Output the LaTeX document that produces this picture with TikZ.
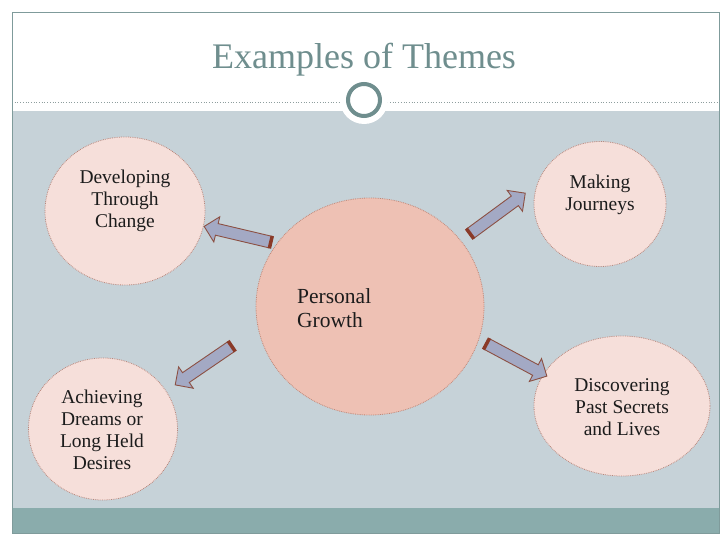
\documentclass[tikz,border=0pt]{standalone}
\usepackage{fontspec}
\setmainfont{Liberation Serif}
\usetikzlibrary{shapes.geometric, shapes.arrows}

\definecolor{framegray}{HTML}{7F9B9B}
\definecolor{dotgray}{HTML}{8E9E9E}
\definecolor{titleteal}{HTML}{6F8E8E}
\definecolor{bandblue}{HTML}{C6D2D8}
\definecolor{barteal}{HTML}{8AACAC}
\definecolor{hubfill}{HTML}{EEC1B4}
\definecolor{hubline}{HTML}{C08676}
\definecolor{bubblefill}{HTML}{F6DFDA}
\definecolor{bubbleline}{HTML}{B9877C}
\definecolor{arrowfill}{HTML}{A3A9C4}
\definecolor{arrowedge}{HTML}{8C5043}
\definecolor{capbrown}{HTML}{8A3A28}
\definecolor{textblack}{HTML}{1C1C1C}

\begin{document}
\begin{tikzpicture}[x=1pt, y=-1pt,
    bubble/.style={ellipse, draw=bubbleline, fill=bubblefill, densely dotted, line width=0.8pt, inner sep=0pt},
    hub/.style={bubble, draw=hubline, fill=hubfill},
    txt/.style={font=\fontsize{19.5}{22}\selectfont, align=center, text=textblack, inner sep=0pt},
    blockarrow/.style={single arrow, draw=arrowedge, fill=arrowfill, line width=0.9pt, minimum height=68pt, single arrow head extend=7pt, inner xsep=0pt, inner ysep=5.5pt, sloped, allow upside down},
    tailcap/.style={draw=capbrown, line width=3.5pt}
]

% Slide background
\useasboundingbox (0,0) rectangle (728,546);
\fill[white] (0,0) rectangle (728,546);
\fill[bandblue] (12,111) rectangle (719,508);
\fill[barteal] (12,508) rectangle (719,533);
\draw[dotgray, dotted, line width=0.7pt] (12,102) -- (719,102);

% Title and ornament
\node[font=\fontsize{36}{40}\selectfont, text=titleteal] (title) at (364,60) {Examples of Themes};
\node[circle, fill=white, minimum size=48pt, inner sep=0pt] (ornbg) at (364,100) {};
\node[circle, draw=titleteal, line width=4pt, minimum size=32pt, inner sep=0pt] (orn) at (ornbg) {};

% Bubbles
\node[hub, minimum width=228pt, minimum height=217pt] (pg) at (370,306.5) {};
\node[bubble, minimum width=160pt, minimum height=148pt] (dtc) at (125,211) {};
\node[bubble, minimum width=132pt, minimum height=125pt] (mj) at (600,204) {};
\node[bubble, minimum width=149pt, minimum height=142pt] (adr) at (103,429) {};
\node[bubble, minimum width=176pt, minimum height=140pt] (dps) at (622,406) {};

% Texts
\node[txt, font=\fontsize{21.5}{24}\selectfont, align=left, anchor=west] (pg-t) at (297,308) {Personal\\Growth};
\node[txt] (dtc-t) at (125,201) {Developing\\Through\\Change};
\node[txt] (mj-t) at (600,195) {Making\\Journeys};
\node[txt] (adr-t) at (102,430) {Achieving\\Dreams or\\Long Held\\Desires};
\node[txt] (dps-t) at (622,407) {Discovering\\Past Secrets\\and Lives};

% Arrows
\path (pg.146) -- node[blockarrow] (a1) {} (dtc.349);
\path (pg.36.5) -- node[blockarrow, pos=0.455] (a2) {} (mj.163);
\path (pg.191) -- node[blockarrow, pos=0.57] (a3) {} (adr.31);
\path (pg.343.3) -- node[blockarrow, pos=0.55] (a4) {} (dps.158.3);
\foreach \a in {a1,a2,a3,a4}
    \draw[tailcap] (\a.before tail) -- (\a.after tail);

% Frame
\draw[framegray, line width=1pt] (12,12) rectangle (719,533);

\end{tikzpicture}
\end{document}
